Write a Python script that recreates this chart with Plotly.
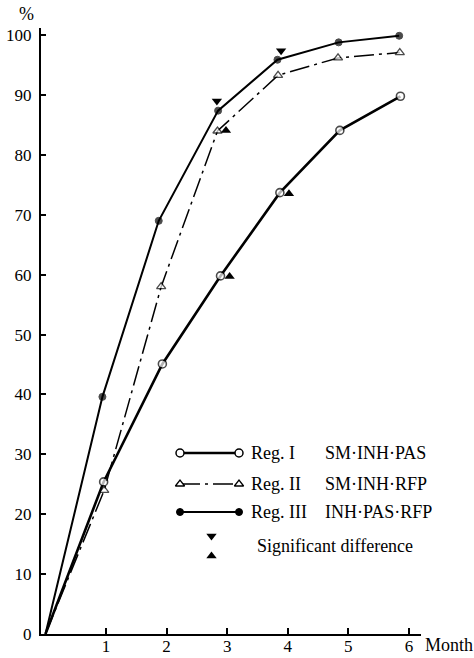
import plotly.graph_objects as go

# ---- data ----
x_reg1 = [0, 0.96, 1.93, 2.89, 3.87, 4.86, 5.86]
y_reg1 = [0, 25.4, 45.1, 59.8, 73.7, 84.1, 89.8]

x_reg2 = [0, 0.97, 1.91, 2.84, 3.84, 4.83, 5.85]
y_reg2 = [0, 24.0, 58.0, 84.0, 93.3, 96.2, 97.1]

x_reg3 = [0, 0.94, 1.87, 2.85, 3.83, 4.84, 5.84]
y_reg3 = [0, 39.6, 69.0, 87.4, 95.9, 98.8, 99.9]

sig_down_x = [2.83, 3.89]
sig_down_y = [89.0, 97.4]
sig_up_x = [2.98, 4.02, 3.04]
sig_up_y = [84.1, 73.5, 59.7]

y_ticks = [0, 10, 20, 30, 40, 50, 60, 70, 80, 90, 100]
x_ticks = [1, 2, 3, 4, 5, 6]

reg_labels = ["Reg. I", "Reg. II", "Reg. III"]
drug_labels = ["SM·INH·PAS", "SM·INH·RFP", "INH·PAS·RFP"]
sig_label = "Significant difference"

FONT = "'Liberation Serif', 'Times New Roman', 'DejaVu Serif', serif"
BLACK = "#000000"

W, H = 474, 658
PLOT_L, PLOT_R, PLOT_T, PLOT_B = 41, 421, 28, 634   # plot area in pixels
PW, PH = PLOT_R - PLOT_L, PLOT_B - PLOT_T


def msizes(xs, s):
    # no marker at the origin
    return [0 if v == 0 else s for v in xs]


fig = go.Figure()

fig.add_trace(go.Scatter(x=x_reg1, y=y_reg1, mode="lines+markers",
                         line=dict(color=BLACK, width=2.6),
                         marker=dict(symbol="circle", size=msizes(x_reg1, 8), color="white",
                                     line=dict(color=BLACK, width=1.6)),
                         cliponaxis=False))
fig.add_trace(go.Scatter(x=x_reg2, y=y_reg2, mode="lines+markers",
                         line=dict(color=BLACK, width=1.5, dash="20px,5px,3px,5px"),
                         marker=dict(symbol="triangle-up", size=msizes(x_reg2, 8), color="white",
                                     line=dict(color=BLACK, width=1.3)),
                         cliponaxis=False))
fig.add_trace(go.Scatter(x=x_reg3, y=y_reg3, mode="lines+markers",
                         line=dict(color=BLACK, width=2),
                         marker=dict(symbol="circle", size=msizes(x_reg3, 7), color=BLACK,
                                     line=dict(color=BLACK, width=1)),
                         cliponaxis=False))
fig.add_trace(go.Scatter(x=sig_down_x, y=sig_down_y, mode="markers",
                         marker=dict(symbol="triangle-down", size=9, color=BLACK),
                         cliponaxis=False))
fig.add_trace(go.Scatter(x=sig_up_x, y=sig_up_y, mode="markers",
                         marker=dict(symbol="triangle-up", size=9, color=BLACK),
                         cliponaxis=False))

# ---- hand-drawn legend on an overlay axis in pixel units ----
leg_x0, leg_x1 = 180, 239
leg_rows = [453, 484, 512]
styles = [
    dict(line=dict(color=BLACK, width=2.4),
         marker=dict(symbol="circle", size=8, color="white", line=dict(color=BLACK, width=1.5))),
    dict(line=dict(color=BLACK, width=1.5, dash="20px,5px,3px,5px"),
         marker=dict(symbol="triangle-up", size=8, color="white", line=dict(color=BLACK, width=1.3))),
    dict(line=dict(color=BLACK, width=2),
         marker=dict(symbol="circle", size=7, color=BLACK, line=dict(color=BLACK, width=1))),
]
for yy, st in zip(leg_rows, styles):
    fig.add_trace(go.Scatter(x=[leg_x0, leg_x1], y=[yy, yy], mode="lines+markers",
                             xaxis="x2", yaxis="y2", cliponaxis=False, **st))
fig.add_trace(go.Scatter(x=[211.5], y=[536], mode="markers", xaxis="x2", yaxis="y2",
                         marker=dict(symbol="triangle-down", size=9, color=BLACK)))
fig.add_trace(go.Scatter(x=[211.5], y=[556], mode="markers", xaxis="x2", yaxis="y2",
                         marker=dict(symbol="triangle-up", size=9, color=BLACK)))

annotations = []
for yy, rl, dl in zip(leg_rows, reg_labels, drug_labels):
    annotations.append(dict(x=249, y=yy, xref="x2", yref="y2", text=rl, showarrow=False,
                            xanchor="left", yanchor="middle",
                            font=dict(family=FONT, size=18, color=BLACK)))
    annotations.append(dict(x=323, y=yy, xref="x2", yref="y2", text=dl, showarrow=False,
                            xanchor="left", yanchor="middle",
                            font=dict(family=FONT, size=18, color=BLACK)))
annotations.append(dict(x=255, y=546, xref="x2", yref="y2", text=sig_label, showarrow=False,
                        xanchor="left", yanchor="middle",
                        font=dict(family=FONT, size=18, color=BLACK)))

annotations.append(dict(x=(26 - PLOT_L) / PW, y=(PLOT_B - 14) / PH, xref="paper", yref="paper",
                        text="%", showarrow=False, xanchor="center", yanchor="middle",
                        font=dict(family=FONT, size=18, color=BLACK)))
annotations.append(dict(x=(423 - PLOT_L) / PW, y=(PLOT_B - 645) / PH, xref="paper", yref="paper",
                        text="Month", showarrow=False, xanchor="left", yanchor="middle",
                        font=dict(family=FONT, size=18, color=BLACK)))

fig.update_layout(
    width=W, height=H,
    margin=dict(l=PLOT_L, r=W - PLOT_R, t=PLOT_T, b=H - PLOT_B),
    paper_bgcolor="white", plot_bgcolor="white",
    showlegend=False,
    font=dict(family=FONT, color=BLACK),
    annotations=annotations,
    xaxis=dict(range=[-0.074, 6.2], tickvals=x_ticks, ticks="inside", ticklen=6, tickwidth=1.5,
               tickcolor=BLACK, showline=True, linecolor=BLACK, linewidth=2,
               showgrid=False, zeroline=False, automargin=False, ticklabelstandoff=-4,
               tickfont=dict(family=FONT, size=17, color=BLACK)),
    yaxis=dict(range=[0, 101.2], tickvals=y_ticks, ticks="inside", ticklen=5, tickwidth=1.5,
               tickcolor=BLACK, showline=True, linecolor=BLACK, linewidth=2,
               showgrid=False, zeroline=False, ticklabelstandoff=4, automargin=False,
               tickfont=dict(family=FONT, size=17, color=BLACK)),
    xaxis2=dict(overlaying="x", range=[PLOT_L, PLOT_R], visible=False),
    yaxis2=dict(overlaying="y", range=[PLOT_B, PLOT_T], visible=False),
)

fig.write_html("out.html", config={"displayModeBar": False},
               post_script="document.body.style.margin='0px';document.body.style.padding='0px';")
